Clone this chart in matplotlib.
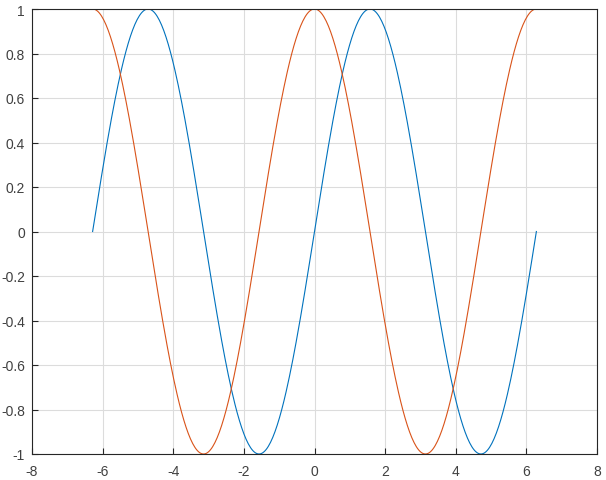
import numpy as np
import matplotlib
matplotlib.use("Agg")
import matplotlib.pyplot as plt

# Data: the two curves are sin(x) and cos(x) over [-2*pi, 2*pi]
x_start = -2 * np.pi
x_end = 2 * np.pi
n_points = 400
x = np.linspace(x_start, x_end, n_points)
y_sin = np.sin(x)
y_cos = np.cos(x)

x_ticks = [-8, -6, -4, -2, 0, 2, 4, 6, 8]
y_ticks = [-1, -0.8, -0.6, -0.4, -0.2, 0, 0.2, 0.4, 0.6, 0.8, 1]
y_tick_labels = ["-1", "-0.8", "-0.6", "-0.4", "-0.2", "0", "0.2", "0.4", "0.6", "0.8", "1"]

plt.rcParams['font.family'] = ['Liberation Sans', 'DejaVu Sans']

fig = plt.figure(figsize=(6.06, 4.81), dpi=100)
W, H = 606, 481
ax = fig.add_axes([32 / W, 1 - 455 / H, (597 - 32) / W, (455 - 10) / H])

ax.plot(x, y_sin, color='#0072BD', lw=0.8)
ax.plot(x, y_cos, color='#D95319', lw=0.8)

ax.set_xlim(-8, 8)
ax.set_ylim(-1, 1)
ax.set_xticks(x_ticks)
ax.set_xticklabels([str(t) for t in x_ticks])
ax.set_yticks(y_ticks)
ax.set_yticklabels(y_tick_labels)

ax.grid(True, color='#dcdcdc', lw=0.8)
ax.set_axisbelow(True)
for s in ax.spines.values():
    s.set_color('#262626')
    s.set_linewidth(0.8)
ax.tick_params(direction='in', length=4, width=0.8, colors='#262626',
               labelcolor='#404040', labelsize=10, top=False, right=False)
ax.tick_params(axis='x', pad=7)
ax.tick_params(axis='y', pad=5)

fig.savefig("out.png", dpi=100)
